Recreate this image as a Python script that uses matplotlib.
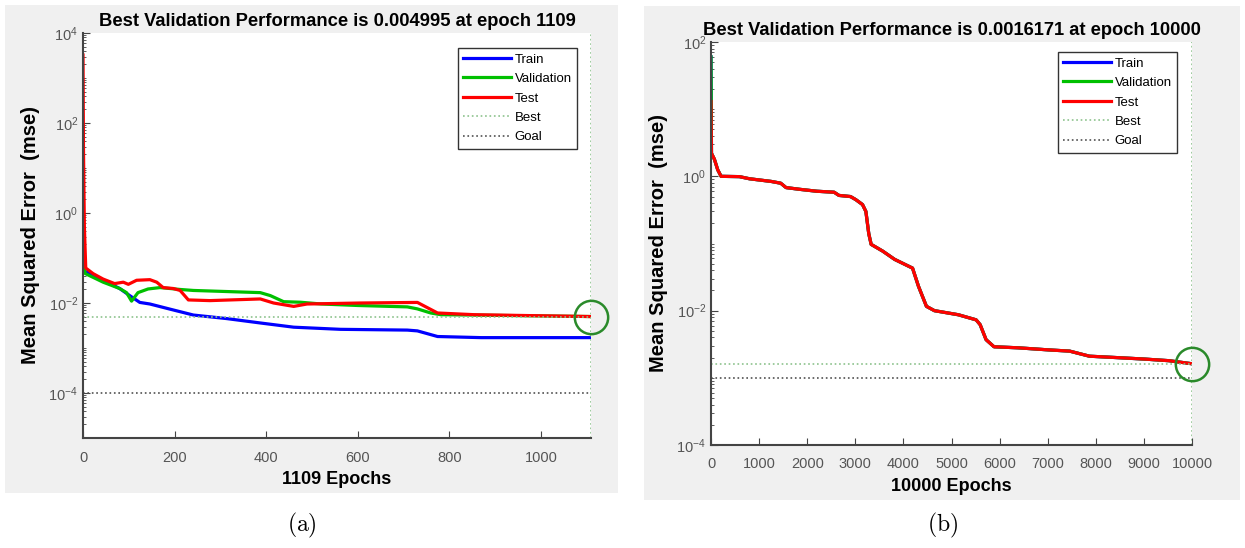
import matplotlib
matplotlib.use("Agg")
import matplotlib.pyplot as plt
from matplotlib.patches import Rectangle
from matplotlib.ticker import LogLocator, NullFormatter

plt.rcParams['font.family'] = ['Liberation Sans', 'DejaVu Sans']
plt.rcParams['mathtext.default'] = 'regular'

# ---- panel (a): 1109 epochs ----
a_train_ep = [0, 5, 20, 44, 80, 102, 124, 146, 190, 241, 314, 387, 460, 562, 708, 730, 774, 869, 1109]
a_train = [0.07, 0.05, 0.042, 0.032, 0.021, 0.0146, 0.0103, 0.0095, 0.0073, 0.0054, 0.0045,
           0.0036, 0.0029, 0.0026, 0.0025, 0.0024, 0.0018, 0.0017, 0.0017]

a_val_ep = [0, 5, 44, 80, 95, 106, 120, 142, 168, 212, 241, 387, 409, 438, 475, 520, 600,
            708, 730, 759, 781, 1109]
a_val = [0.09, 0.045, 0.029, 0.021, 0.017, 0.011, 0.017, 0.0205, 0.022, 0.02, 0.019, 0.017,
         0.0146, 0.0107, 0.0104, 0.0095, 0.0088, 0.0082, 0.0074, 0.006, 0.0055, 0.005]

a_test_ep = [0, 1, 3, 6, 22, 44, 69, 88, 99, 117, 146, 161, 175, 197, 212, 230, 277, 387, 416,
             460, 489, 606, 730, 774, 854, 1000, 1109]
a_test = [3250, 30, 0.5, 0.06, 0.045, 0.034, 0.027, 0.029, 0.026, 0.032, 0.033, 0.029, 0.022,
          0.021, 0.019, 0.0117, 0.0113, 0.0123, 0.01, 0.0084, 0.0095, 0.01, 0.0103, 0.006,
          0.0055, 0.0052, 0.005]

a_best_epoch = 1109
a_best = 0.004995
a_goal = 1e-4

# ---- panel (b): 10000 epochs ----
b_ep = [0, 10, 70, 140, 210, 590, 800, 1250, 1450, 1560, 1850, 2200, 2560, 2660, 2900, 3010,
        3150, 3220, 3280, 3330, 3570, 3818, 4190, 4314, 4479, 4645, 5140, 5512, 5595, 5719,
        5884, 6380, 7040, 7455, 7868, 8446, 9025, 9521, 10000]
b_test = [13, 2.2, 1.8, 1.25, 1.0, 0.99, 0.92, 0.84, 0.79, 0.68, 0.64, 0.6, 0.58, 0.52, 0.5,
          0.45, 0.38, 0.3, 0.14, 0.097, 0.077, 0.058, 0.043, 0.023, 0.0116, 0.01, 0.0087,
          0.0073, 0.0062, 0.0037, 0.0029, 0.0028, 0.0026, 0.0025, 0.0021, 0.002, 0.0019,
          0.0018, 0.00162]
b_trainval = [60] + b_test[1:]

b_best_epoch = 10000
b_best = 0.0016171
b_goal = 1e-3

BLUE = '#0000ff'
GREEN = '#00c000'
RED = '#ff0000'
BESTC = '#8cc28c'
GOALC = '#505050'
TICKC = '#555555'

fig = plt.figure(figsize=(12.45, 5.48), dpi=100)
W, H = 1245, 548


def fbox(x0, y0, x1, y1):
    # pixel box (top-left origin) -> figure fraction [l, b, w, h]
    return [x0 / W, 1 - y1 / H, (x1 - x0) / W, (y1 - y0) / H]


for box in [(5, 5, 618, 493), (644, 6, 1240, 500)]:
    l, b, w, h = fbox(*box)
    fig.patches.append(Rectangle((l, b), w, h, transform=fig.transFigure,
                                 facecolor='#f0f0f0', edgecolor='none', zorder=-5))


def style_axes(ax, xmax, ylim, yticks, xticks):
    ax.set_yscale('log')
    ax.set_xlim(0, xmax)
    ax.set_ylim(*ylim)
    ax.set_yticks(yticks)
    ax.yaxis.set_minor_locator(LogLocator(base=10, subs=range(1, 10), numticks=50))
    ax.yaxis.set_minor_formatter(NullFormatter())
    ax.set_xticks(xticks)
    for s in ['top', 'right']:
        ax.spines[s].set_visible(False)
    for s in ['left', 'bottom']:
        ax.spines[s].set_color('#444444')
        ax.spines[s].set_linewidth(1.5)
    ax.tick_params(which='both', direction='in', colors='#444444', labelcolor=TICKC,
                   labelsize=10.5)
    ax.tick_params(which='major', length=5)
    ax.tick_params(axis='x', pad=9)
    ax.tick_params(which='minor', length=2.5)


def draw(ax, tr_x, tr_y, va_x, va_y, te_x, te_y, best_ep, best, goal, title, xlabel, anchor):
    ax.plot(tr_x, tr_y, color=BLUE, lw=2.3, label='Train')
    ax.plot(va_x, va_y, color=GREEN, lw=2.3, label='Validation')
    ax.plot(te_x, te_y, color=RED, lw=2.3, label='Test')
    ax.axhline(best, color=BESTC, ls=':', lw=1.2, label='Best')
    ax.axhline(goal, color=GOALC, ls=':', lw=1.2, label='Goal')
    ax.axvline(best_ep, color=BESTC, ls=':', lw=1.2)
    ax.plot([best_ep], [best], marker='o', ms=24, mfc='none', mec='#2a8a2a', mew=1.8,
            clip_on=False, zorder=5)
    ax.set_title(title, fontsize=13.2, fontweight='bold', pad=5)
    ax.set_xlabel(xlabel, fontsize=13, fontweight='bold', labelpad=5)
    ax.set_ylabel('Mean Squared Error  (mse)', fontsize=14.5, fontweight='bold', labelpad=6)
    leg = ax.legend(loc='upper right', bbox_to_anchor=anchor, borderaxespad=0,
                    fontsize=9.5, handlelength=3.6, handletextpad=0.3, labelspacing=0.55,
                    borderpad=0.4, fancybox=False, framealpha=1)
    leg.get_frame().set_edgecolor('#333333')
    leg.get_frame().set_linewidth(1.0)


ax1 = fig.add_axes(fbox(83, 33, 591, 438))
style_axes(ax1, 1109, (1e-5, 1e4), [1e-4, 1e-2, 1e0, 1e2, 1e4], [0, 200, 400, 600, 800, 1000])
draw(ax1, a_train_ep, a_train, a_val_ep, a_val, a_test_ep, a_test, a_best_epoch, a_best, a_goal,
     'Best Validation Performance is 0.004995 at epoch 1109', '1109 Epochs',
     (1 - 14 / 508, 1 - 15 / 405))

ax2 = fig.add_axes(fbox(711, 42, 1192, 445))
style_axes(ax2, 10000, (1e-4, 1e2), [1e-4, 1e-2, 1e0, 1e2], list(range(0, 10001, 1000)))
draw(ax2, b_ep, b_trainval, b_ep, b_trainval, b_ep, b_test, b_best_epoch, b_best, b_goal,
     'Best Validation Performance is 0.0016171 at epoch 10000', '10000 Epochs',
     (1 - 15 / 481, 1 - 10 / 403))

fig.text(302 / W, 1 - 525 / H, r'$\mathrm{(a)}$', math_fontfamily='cm', fontsize=17,
         ha='center', va='center')
fig.text(943 / W, 1 - 525 / H, r'$\mathrm{(b)}$', math_fontfamily='cm', fontsize=17,
         ha='center', va='center')

fig.savefig('out.png', dpi=100, facecolor='white')
